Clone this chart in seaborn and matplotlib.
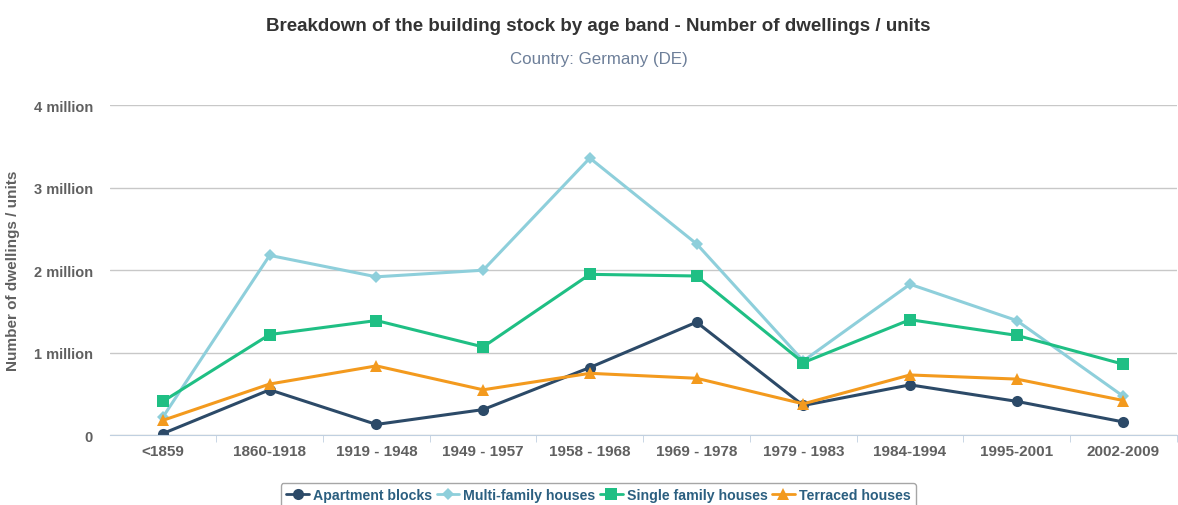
import numpy as np
import pandas as pd
import matplotlib.pyplot as plt
import seaborn as sns

age_bands = ['<1859', '1860-1918', '1919 - 1948', '1949 - 1957', '1958 - 1968',
             '1969 - 1978', '1979 - 1983', '1984-1994', '1995-2001', '2002-2009']
series_names = ['Apartment blocks', 'Multi-family houses', 'Single family houses', 'Terraced houses']

apartment = [0.02, 0.55, 0.13, 0.31, 0.82, 1.37, 0.36, 0.61, 0.41, 0.16]
multi_family = [0.22, 2.18, 1.92, 2.00, 3.36, 2.32, 0.90, 1.83, 1.39, 0.47]
single_family = [0.41, 1.22, 1.39, 1.07, 1.95, 1.93, 0.88, 1.40, 1.21, 0.86]
terraced = [0.18, 0.62, 0.84, 0.55, 0.75, 0.69, 0.38, 0.73, 0.68, 0.42]

colors = ['#2c4a68', '#8ecfdb', '#1fbf84', '#f39a1e']
markers = ['o', 'D', 's', '^']

rows = []
for name, vals in zip(series_names, [apartment, multi_family, single_family, terraced]):
    for band, v in zip(age_bands, vals):
        rows.append({'band': band, 'value': v * 1e6, 'series': name})
df = pd.DataFrame(rows)

sns.set_style('white')
plt.rcParams['font.family'] = ['Liberation Sans', 'DejaVu Sans']

fig, ax = plt.subplots(figsize=(11.78, 5.06), dpi=100)
fig.subplots_adjust(left=0.093, right=0.999, top=0.79, bottom=0.138)

sns.lineplot(data=df, x='band', y='value', hue='series', style='series',
             palette=dict(zip(series_names, colors)),
             markers=dict(zip(series_names, markers)),
             dashes=False, linewidth=2.2, markersize=8, markeredgewidth=0,
             sort=False, ax=ax, legend=False)
# diamond marker a bit smaller
for line in ax.get_lines():
    if line.get_marker() == 'D':
        line.set_markersize(6)

ax.set_xlim(-0.5, len(age_bands) - 0.5)
ax.set_ylim(0, 4e6)
ax.set_yticks([0, 1e6, 2e6, 3e6, 4e6])
ax.set_yticklabels(['0', '1 million', '2 million', '3 million', '4 million'])
ax.yaxis.grid(True, color='#c8c8c8', linewidth=1)
ax.set_axisbelow(True)
for s in ['top', 'right', 'left']:
    ax.spines[s].set_visible(False)
ax.spines['bottom'].set_color('#c0d0e0')

ax.set_xticks(np.arange(len(age_bands)) + 0.5, minor=True)
ax.tick_params(axis='x', which='minor', length=5, color='#c0d0e0', bottom=True)
ax.tick_params(axis='x', which='major', length=0, pad=6)
ax.tick_params(axis='y', length=0, pad=12)
for lab in ax.get_xticklabels():
    lab.set_color('#606060')
    lab.set_fontsize(11)
    lab.set_fontweight('bold')
for lab in ax.get_yticklabels():
    lab.set_color('#606060')
    lab.set_fontsize(10.5)
    lab.set_fontweight('bold')

ax.set_xlabel('')
ax.set_ylabel('Number of dwellings / units', color='#606060', fontsize=11,
              fontweight='bold')
ax.yaxis.set_label_coords(-0.084, 0.5)

fig.text(0.508, 0.947, 'Breakdown of the building stock by age band - Number of dwellings / units',
         ha='center', va='center', fontsize=13.5, fontweight='bold', color='#333333')
fig.text(0.508, 0.882, 'Country: Germany (DE)', ha='center', va='center',
         fontsize=12.2, color='#6d7f99')

handles = [plt.Line2D([], [], color=c, marker=m, linewidth=2,
                      markersize=(6 if m == 'D' else 8), markeredgewidth=0)
           for c, m in zip(colors, markers)]
leg = fig.legend(handles, series_names, loc='upper center', bbox_to_anchor=(0.508, 0.058),
                 ncol=4, frameon=True, fancybox=True, handlelength=1.6, handletextpad=0.3,
                 columnspacing=0.3, borderpad=0.4, fontsize=10.2)
leg.get_frame().set_edgecolor('#909090')
leg.get_frame().set_linewidth(1)
for t in leg.get_texts():
    t.set_color('#2b5f80')
    t.set_fontweight('bold')

plt.savefig('out.png')
